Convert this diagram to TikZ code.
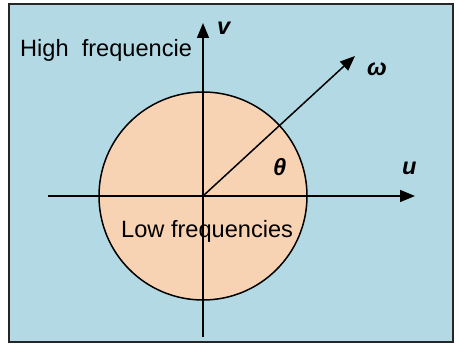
\documentclass[tikz,border=0pt]{standalone}
\usepackage{fontspec}
\setmainfont{Liberation Sans}
\usetikzlibrary{arrows.meta}

\definecolor{skyblue}{RGB}{179,218,228}
\definecolor{peach}{RGB}{248,211,179}

\begin{document}
\begin{tikzpicture}[x=1pt, y=-1pt, >={Triangle[length=15pt, width=12pt]},
  axis/.style={line width=1.5pt, ->},
  lbl/.style={inner sep=0pt, anchor=base west, font=\fontsize{23.6}{28}\selectfont},
  axlbl/.style={lbl, font=\fontsize{23.6}{28}\selectfont\bfseries\itshape}]

\useasboundingbox (0,0) rectangle (459,344);

% Background
\draw[line width=2pt, fill=skyblue, draw=black!85] (9,4) rectangle (453,342);

% Low frequency disc
\coordinate (O) at (203,196);
\draw[line width=1.5pt, fill=peach] (O) circle (104);

% Axes
\coordinate (ustart) at (48,196);
\coordinate (uend) at (415,196);
\coordinate (vstart) at (203,337);
\coordinate (vend) at (203,23);
\draw[axis] (ustart) -- (uend);
\draw[axis] (vstart) -- (vend);

% Direction omega
\coordinate (W) at (355,56);
\draw[axis] (O) -- (W);

% Labels
\node[axlbl] (v) at (217,35) {v};
\node[axlbl] (u) at (402,175) {u};
\node[axlbl] (w) at (367,76) {ω};
\node[axlbl] (th) at (273,176) {θ};
\node[lbl] (high) at (20,57) {High\ \ frequencie};
\node[lbl] (low) at (121,238) {Low frequencies};

\end{tikzpicture}
\end{document}
